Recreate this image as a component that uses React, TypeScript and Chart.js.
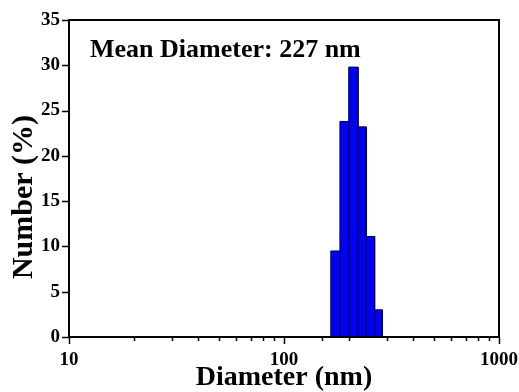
import React, { useEffect, useRef } from "react";
import { Chart, registerables } from "chart.js";

Chart.register(...registerables);

// Histogram bin edges (nm) and number percentages
const binEdges = [165, 182, 200, 221, 241.5, 264, 287];
const binValues = [9.5, 23.8, 29.8, 23.2, 11.1, 3.0];
const xTickLabels = [10, 100, 1000];
const yMajorStep = 5;
const annotationText = "Mean Diameter: 227 nm";
const xTitle = "Diameter (nm)";
const yTitle = "Number (%)";

const FONT = "'Liberation Serif', 'Times New Roman', serif";

function buildOutline() {
  const pts: { x: number; y: number }[] = [];
  for (let i = 0; i < binValues.length; i++) {
    const l = binEdges[i];
    const r = binEdges[i + 1];
    pts.push({ x: l, y: 0 }, { x: l, y: binValues[i] }, { x: r, y: binValues[i] }, { x: r, y: 0 });
  }
  return pts;
}

const framePlugin = {
  id: "frameTicks",
  afterDraw(chart: any) {
    const { ctx, chartArea } = chart;
    const { left, right, top, bottom } = chartArea;
    const xs = chart.scales.x;
    const ys = chart.scales.y;
    ctx.save();
    ctx.strokeStyle = "#000";
    ctx.lineWidth = 1.5;
    ctx.beginPath();
    xs.ticks.forEach((t: any) => {
      const v = t.value;
      const px = Math.round(xs.getPixelForValue(v)) + 0.5;
      const lg = Math.log10(v);
      const major = Math.abs(lg - Math.round(lg)) < 1e-6;
      const len = major ? 7 : 4;
      ctx.moveTo(px, bottom);
      ctx.lineTo(px, bottom + len);
    });
    ys.ticks.forEach((t: any) => {
      const v = t.value;
      const py = Math.round(ys.getPixelForValue(v)) + 0.5;
      const major = Math.abs(v / yMajorStep - Math.round(v / yMajorStep)) < 1e-6;
      const len = major ? 7 : 4;
      ctx.moveTo(left, py);
      ctx.lineTo(left - len, py);
    });
    ctx.stroke();
    ctx.lineWidth = 2;
    ctx.strokeRect(left, top, right - left, bottom - top);

    // annotation
    ctx.fillStyle = "#000";
    ctx.font = `bold 26px ${FONT}`;
    ctx.textAlign = "left";
    ctx.textBaseline = "alphabetic";
    ctx.fillText(annotationText, 90, 57);

    // y-axis title
    ctx.save();
    ctx.translate(24, 197);
    ctx.rotate(-Math.PI / 2);
    ctx.font = `bold 30px ${FONT}`;
    ctx.textAlign = "center";
    ctx.textBaseline = "middle";
    ctx.fillText(yTitle, 0, 0);
    ctx.restore();
    ctx.restore();
  },
};

export default function App() {
  const ref = useRef<HTMLCanvasElement | null>(null);
  useEffect(() => {
    document.body.style.margin = "0";
    const canvas = ref.current!;
    const chart = new Chart(canvas, {
      type: "scatter",
      data: {
        datasets: [
          {
            data: buildOutline(),
            showLine: true,
            fill: "origin",
            backgroundColor: "#0000f5",
            borderColor: "#000050",
            borderWidth: 1,
            pointRadius: 0,
            tension: 0,
          },
        ],
      },
      options: {
        animation: false,
        responsive: false,
        maintainAspectRatio: false,
        layout: { padding: { top: 20, right: 20, left: 0, bottom: 0 } },
        plugins: { legend: { display: false }, tooltip: { enabled: false } },
        scales: {
          x: {
            type: "logarithmic",
            min: 10,
            max: 1000,
            border: { display: false },
            grid: { drawOnChartArea: false, tickLength: 7, tickColor: "rgba(0,0,0,0)" },
            ticks: {
              autoSkip: false,
              maxRotation: 0,
              padding: 5,
              color: "#000",
              font: { family: FONT, size: 19, weight: "bold" },
              callback: (v: any) => (xTickLabels.includes(Number(v)) ? String(v) : ""),
            },
            title: {
              display: true,
              text: xTitle,
              color: "#000",
              font: { family: FONT, size: 28, weight: "bold", lineHeight: 1 },
              padding: { top: 0, bottom: 0 },
            },
            afterFit: (s: any) => {
              s.height = 55;
              s.paddingLeft = 0;
              s.paddingRight = 0;
            },
          },
          y: {
            min: 0,
            max: 35,
            border: { display: false },
            grid: { drawOnChartArea: false, tickLength: 7, tickColor: "rgba(0,0,0,0)" },
            ticks: {
              stepSize: 2.5,
              padding: 2,
              color: "#000",
              font: { family: FONT, size: 19, weight: "bold" },
              callback: (v: any) => (Number(v) % yMajorStep === 0 ? String(v) : ""),
            },
            afterFit: (s: any) => {
              s.width = 69;
              s.paddingTop = 0;
              s.paddingBottom = 0;
            },
          },
        },
      },
      plugins: [framePlugin],
    } as any);
    return () => chart.destroy();
  }, []);
  return (
    <div style={{ width: 519, height: 392 }}>
      <canvas ref={ref} width={519} height={392} style={{ display: "block" }} />
    </div>
  );
}
